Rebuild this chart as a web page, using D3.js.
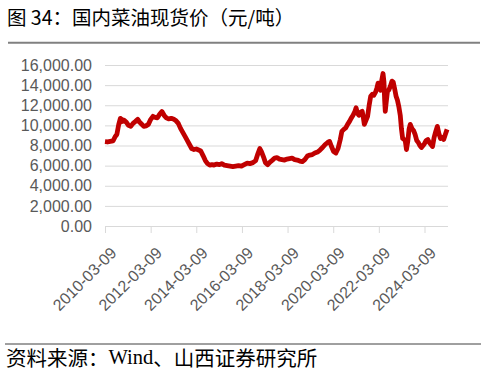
<!DOCTYPE html>
<html>
<head>
<meta charset="utf-8">
<script src="https://cdn.jsdelivr.net/npm/d3@7"></script>
<style>
	body { margin: 0; background: #fff; }
	svg { display: block; }
</style>
</head>
<body>
<svg id="chart" width="486" height="373" viewBox="0 0 486 373"></svg>
<script>

// 国内菜油现货价 (元/吨)
const dates = [
	"2010-03-09","2010-04-20","2010-06-01","2010-07-15","2010-08-20","2010-09-15","2010-10-15","2010-11-10","2010-11-25","2010-12-05","2010-12-20",
	"2011-01-10","2011-02-15","2011-03-20","2011-04-25","2011-06-01","2011-07-10","2011-08-15","2011-09-15","2011-10-20","2011-11-20","2011-12-25",
	"2012-02-01","2012-03-10","2012-04-15","2012-05-20","2012-06-25","2012-07-30","2012-09-05","2012-10-10","2012-11-15","2012-12-20",
	"2013-02-01","2013-03-15","2013-04-20","2013-05-25","2013-06-30","2013-08-05","2013-09-10","2013-10-15","2013-11-20","2013-12-25",
	"2014-02-01","2014-03-10","2014-04-15","2014-05-20","2014-06-25","2014-08-01","2014-09-05","2014-10-10","2014-11-15","2014-12-20",
	"2015-02-01","2015-03-15","2015-04-20","2015-06-01","2015-07-15","2015-09-01","2015-10-15","2015-12-01",
	"2016-01-15","2016-03-01","2016-04-15","2016-06-01","2016-07-15","2016-09-01","2016-10-15","2016-11-20","2016-12-20",
	"2017-01-15","2017-02-15","2017-03-20","2017-04-25","2017-06-01","2017-07-10","2017-08-15","2017-09-20","2017-11-01","2017-12-10",
	"2018-01-20","2018-03-01","2018-04-10","2018-05-20","2018-07-01","2018-08-10","2018-09-20","2018-11-01","2018-12-10",
	"2019-01-20","2019-03-01","2019-04-10","2019-05-20","2019-07-01","2019-08-10","2019-09-20","2019-11-01","2019-12-10",
	"2020-01-10","2020-02-10","2020-03-15","2020-04-20","2020-05-25","2020-06-30","2020-07-25","2020-08-25","2020-09-25","2020-10-25","2020-11-25","2020-12-20",
	"2021-01-20","2021-02-20","2021-03-10","2021-04-01","2021-04-25","2021-05-20","2021-06-15","2021-07-01","2021-07-20","2021-08-15","2021-09-10","2021-10-05","2021-10-30","2021-11-25","2021-12-20",
	"2022-01-15","2022-02-05","2022-02-25","2022-03-15","2022-04-05","2022-04-25","2022-05-15","2022-05-30","2022-06-10","2022-06-20","2022-07-05","2022-07-25","2022-08-15","2022-09-10","2022-10-05","2022-10-25","2022-11-15","2022-12-10",
	"2023-01-01","2023-01-25","2023-02-15","2023-03-05","2023-03-25","2023-04-15","2023-05-05","2023-05-25","2023-06-15","2023-07-05","2023-07-25","2023-08-20","2023-09-15","2023-10-10","2023-11-05","2023-12-01","2023-12-25",
	"2024-01-20","2024-02-15","2024-03-10","2024-04-05","2024-05-01","2024-05-25","2024-06-20","2024-07-15","2024-08-10","2024-09-05","2024-09-30","2024-10-25","2024-11-20","2024-12-15",
	"2025-01-10","2025-02-05","2025-03-05"
];

const prices = [
	8380,8350,8400,8450,8900,9100,10100,10700,10350,10600,10400,
	10500,10300,10000,9900,10200,10400,10600,10300,10100,9900,9950,
	10100,10600,10900,10800,10750,11100,11380,11000,10750,10650,
	10700,10600,10450,10200,9700,9300,8900,8500,8100,7700,
	7600,7650,7550,7450,7000,6500,6200,6050,6100,6050,
	6150,6100,6200,6050,6000,5950,5900,5950,
	6000,5950,6100,6250,6200,6300,6500,7200,7700,
	7400,6900,6300,6100,6350,6550,6750,6800,6650,6600,
	6550,6650,6700,6750,6600,6550,6450,6400,6600,
	6950,7050,7100,7250,7350,7550,7800,8100,8300,
	8400,7900,7400,7250,7700,8600,9400,9600,9750,10100,10400,10700,
	11000,11400,11750,11200,11000,11300,11400,10900,10100,10500,10900,12000,12900,13100,13000,
	13300,13700,14200,13700,13500,14500,15150,14300,12500,11400,12300,13400,13500,13900,14400,14300,13700,12900,
	12500,11800,11000,9700,8700,8600,8500,7600,8400,9600,10100,9700,9500,9100,8500,8300,8000,
	7800,8000,8200,8500,8600,8300,8100,7900,8800,9400,9900,9200,8700,8800,
	8600,9100,9600
];

const yTicks = [0, 2000, 4000, 6000, 8000, 10000, 12000, 14000, 16000];
const xTickLabels = ["2010-03-09","2012-03-09","2014-03-09","2016-03-09","2018-03-09","2020-03-09","2022-03-09","2024-03-09"];

const title = "图 34：国内菜油现货价（元/吨）";

const parseDate = d3.timeParse("%Y-%m-%d");
const series = dates.map((d, i) => ({ date: parseDate(d), value: prices[i] }));

const svg = d3.select("#chart");
const plot = { left: 105, right: 448, top: 65, bottom: 226 };
const axisFont = "'Liberation Sans', Arial, sans-serif";

const x = d3.scaleTime()
	.domain([parseDate("2010-03-09"), parseDate("2025-03-20")])
	.range([plot.left, plot.right]);

const y = d3.scaleLinear()
	.domain([0, 16000])
	.range([plot.bottom, plot.top]);

// title + rule under it
svg.append("text")
	.attr("x", 7)
	.attr("y", 16.5)
	.attr("dominant-baseline", "central")
	.style("font-family", "'Noto Sans CJK SC', sans-serif")
	.style("font-size", "19.5px")
	.style("fill", "#000")
	.text(title);

svg.append("line")
	.attr("x1", 8).attr("x2", 480)
	.attr("y1", 42.7).attr("y2", 42.7)
	.style("stroke", "#808080")
	.style("stroke-width", 2);

// gridlines + y labels
const yAxis = d3.axisLeft(y)
	.tickValues(yTicks)
	.tickSize(-(plot.right - plot.left))
	.tickPadding(13)
	.tickFormat(d3.format(",.2f"));

const yg = svg.append("g")
	.attr("transform", "translate(" + plot.left + ",0)")
	.call(yAxis);

yg.select(".domain").remove();
yg.selectAll(".tick line")
	.style("stroke", "#d9d9d9")
	.style("stroke-width", 1);
yg.selectAll(".tick text")
	.style("font-family", axisFont)
	.style("font-size", "16px")
	.style("fill", "#595959");

// x axis
const xAxis = d3.axisBottom(x)
	.tickValues(xTickLabels.map(parseDate))
	.tickSize(7)
	.tickFormat(d3.timeFormat("%Y-%m-%d"));

const xg = svg.append("g")
	.attr("transform", "translate(0," + plot.bottom + ")")
	.call(xAxis);

xg.select(".domain")
	.attr("d", "M" + plot.left + ",0.5H" + plot.right)
	.style("stroke", "#d9d9d9");
xg.selectAll(".tick line")
	.style("stroke", "#d9d9d9");
xg.selectAll(".tick text")
	.attr("y", 0)
	.attr("dy", "0.35em")
	.attr("text-anchor", "end")
	.attr("transform", "translate(8,24) rotate(-45)")
	.style("font-family", axisFont)
	.style("font-size", "16px")
	.style("fill", "#595959");

// price line
const line = d3.line()
	.x(d => x(d.date))
	.y(d => y(d.value));

svg.append("path")
	.datum(series)
	.attr("d", line)
	.style("fill", "none")
	.style("stroke", "#c00000")
	.style("stroke-width", 4.8)
	.style("stroke-linejoin", "round");

// source
svg.append("line")
	.attr("x1", 5).attr("x2", 481)
	.attr("y1", 344).attr("y2", 344)
	.style("stroke", "#404040")
	.style("stroke-width", 1);

const src = svg.append("text")
	.attr("x", 6)
	.attr("y", 357)
	.attr("dominant-baseline", "central")
	.style("font-family", "'Noto Sans CJK SC', sans-serif")
	.style("font-size", "20.5px")
	.style("fill", "#000");

src.append("tspan").text("资料来源：");
src.append("tspan").style("font-family", "'Liberation Serif', serif").text("Wind");
src.append("tspan").text("、山西证券研究所");

</script>
</body>
</html>
